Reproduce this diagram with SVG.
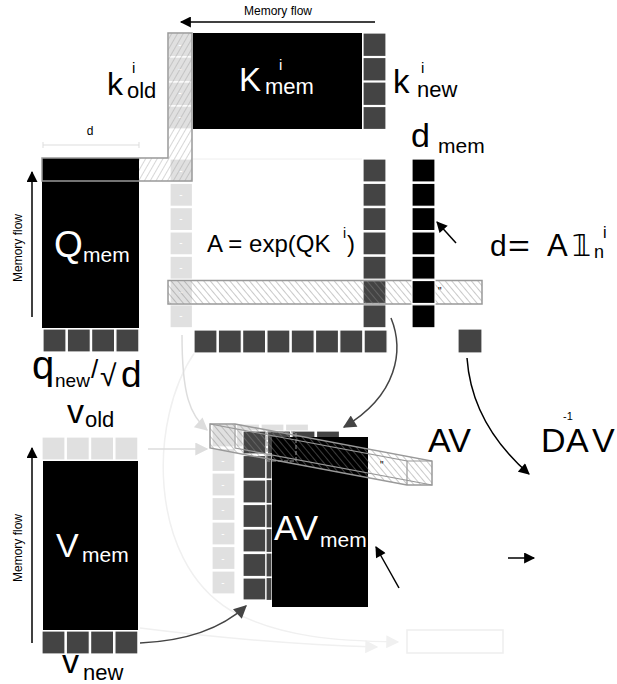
<svg xmlns="http://www.w3.org/2000/svg" width="617" height="684" viewBox="0 0 617 684">
<defs>
<style>
text{font-family:"Liberation Sans",Arial,sans-serif;fill:#000}
.w{fill:#fff}
.dk{fill:#444;stroke:#fff;stroke-width:1.2}
.lt{fill:#e0e0e0;stroke:#fff;stroke-width:1.2}
.bk{fill:#000;stroke:#fff;stroke-width:1.2}
.mn{fill:#fff;font-size:10px;text-anchor:middle}
.hl{fill:none;stroke:#999;stroke-width:1.5}
</style>
<pattern id="hs" width="5" height="5" patternUnits="userSpaceOnUse" patternTransform="rotate(30)"><line x1="0" y1="0" x2="0" y2="5" stroke="#9a9a9a" stroke-width="0.8"/></pattern>
<pattern id="hb" width="5" height="5" patternUnits="userSpaceOnUse" patternTransform="rotate(-40)"><line x1="0" y1="0" x2="0" y2="5" stroke="#888" stroke-width="0.9"/></pattern>
<marker id="mk" viewBox="0 0 10 10" refX="9" refY="5" markerWidth="12" markerHeight="11" markerUnits="userSpaceOnUse" orient="auto"><path d="M0,0 L10,5 L0,10 z" fill="#000"/></marker>
<marker id="md" viewBox="0 0 10 10" refX="9" refY="5" markerWidth="16" markerHeight="13" markerUnits="userSpaceOnUse" orient="auto"><path d="M0,0 L10,5 L0,10 z" fill="#444"/></marker>
<marker id="ml" viewBox="0 0 10 10" refX="9" refY="5" markerWidth="16" markerHeight="13" markerUnits="userSpaceOnUse" orient="auto"><path d="M0,0 L10,5 L0,10 z" fill="#ddd"/></marker>
<marker id="mf" viewBox="0 0 10 10" refX="9" refY="5" markerWidth="16" markerHeight="13" markerUnits="userSpaceOnUse" orient="auto"><path d="M0,0 L10,5 L0,10 z" fill="#f0f0f0"/></marker>
</defs>
<rect width="617" height="684" fill="#fff"/>

<g id="connectors">
<path d="M195,352 C148,420 148,560 230,610 C280,638 340,641 398,642" fill="none" stroke="#f0f0f0" stroke-width="1.5" marker-end="url(#mf)"/>
<path d="M140,628 C220,638 300,645 377,647" fill="none" stroke="#f0f0f0" stroke-width="1.5" marker-end="url(#mf)"/>
<path d="M182,335 C182,395 190,415 207,430" fill="none" stroke="#ddd" stroke-width="1.5" marker-end="url(#ml)"/>
<path d="M148,449 L207,449" fill="none" stroke="#ddd" stroke-width="1.5" marker-end="url(#ml)"/>
<path d="M140,643 C185,641 220,630 246,606" fill="none" stroke="#444" stroke-width="1.5" marker-end="url(#md)"/>
<path d="M391,318 C404,350 398,395 344,427" fill="none" stroke="#444" stroke-width="1.5" marker-end="url(#md)"/>
<path d="M467,358 C470,400 490,440 529,474" fill="none" stroke="#000" stroke-width="1.5" marker-end="url(#mk)"/>
<path d="M375,22 L181,22" fill="none" stroke="#000" stroke-width="1.5" marker-end="url(#mk)"/>
<path d="M32,317 L32,172" fill="none" stroke="#000" stroke-width="1.5" marker-end="url(#mk)"/>
<path d="M32,643 L32,448" fill="none" stroke="#000" stroke-width="1.5" marker-end="url(#mk)"/>
<path d="M456,243 L437,222" fill="none" stroke="#000" stroke-width="1.5" marker-end="url(#mk)"/>
<path d="M399,588 L376,547" fill="none" stroke="#000" stroke-width="1.5" marker-end="url(#mk)"/>
<path d="M508,558 L534,558" fill="none" stroke="#000" stroke-width="1.5" marker-end="url(#mk)"/>
<path d="M43,145 L139,145 M43,142 L43,148 M139,142 L139,148" fill="none" stroke="#ddd" stroke-width="1"/>
</g>

<text x="278" y="15" font-size="12" text-anchor="middle">Memory flow</text>
<text transform="translate(22,248) rotate(-90)" font-size="12" text-anchor="middle">Memory flow</text>
<text transform="translate(22,548) rotate(-90)" font-size="12" text-anchor="middle">Memory flow</text>
<text x="90" y="135" font-size="12" text-anchor="middle">d</text>

<g id="k_old_label">
<text x="107" y="95" font-size="32">k</text>
<text x="132" y="73" font-size="15">i</text>
<text x="127" y="98" font-size="22">old</text>
</g>

<g id="K_mem">
<rect x="193" y="33" width="169" height="96" fill="#000"/>
<text x="239" y="91" font-size="33" class="w">K</text>
<text x="279" y="70" font-size="15" class="w">i</text>
<text x="265" y="94" font-size="22" class="w">mem</text>
</g>

<g id="k_new">
<rect class="dk" x="363" y="33" width="23" height="23.5"/>
<rect class="dk" x="363" y="57.5" width="23" height="23.5"/>
<rect class="dk" x="363" y="82" width="23" height="23.5"/>
<rect class="dk" x="363" y="106.5" width="23" height="23"/>
<text x="393" y="93" font-size="33">k</text>
<text x="421" y="73" font-size="15">i</text>
<text x="417" y="97" font-size="22">new</text>
</g>

<g id="Q_mem">
<rect x="42" y="158" width="97" height="170" fill="#000"/>
<rect class="dk" x="43" y="329" width="23" height="23"/>
<rect class="dk" x="67.3" y="329" width="23" height="23"/>
<rect class="dk" x="91.6" y="329" width="23" height="23"/>
<rect class="dk" x="115.9" y="329" width="23" height="23"/>
<text x="54" y="257" font-size="37" class="w">Q</text>
<text x="83" y="262" font-size="21" class="w">mem</text>
<text x="32" y="379" font-size="40">q</text>
<text x="55" y="387" font-size="19">new</text>
<text x="91" y="378" font-size="26">/</text>
<text x="100" y="386" font-size="30">√</text>
<text x="121" y="387" font-size="37">d</text>
</g>

<g id="A_matrix">
<line x1="193" y1="159" x2="362" y2="159" stroke="#eee" stroke-width="1"/>
<g id="k_old_cells">
<rect class="lt" x="168" y="33" width="24" height="24"/>
<rect class="lt" x="168" y="57" width="24" height="25"/>
<rect class="lt" x="168" y="82" width="24" height="24"/>
<rect class="lt" x="168" y="106" width="24" height="23"/>
<text class="mn" x="180" y="48">-</text>
<text class="mn" x="180" y="72">-</text>
<text class="mn" x="180" y="96">-</text>
<text class="mn" x="180" y="120">-</text>
<text class="mn" x="180" y="141">-</text>
</g>
<rect class="lt" x="170" y="159" width="22.5" height="23"/>
<rect class="lt" x="170" y="183.3" width="22.5" height="23"/>
<rect class="lt" x="170" y="207.6" width="22.5" height="23"/>
<rect class="lt" x="170" y="231.9" width="22.5" height="23"/>
<rect class="lt" x="170" y="256.2" width="22.5" height="23"/>
<rect class="lt" x="170" y="280.5" width="22.5" height="23"/>
<rect class="lt" x="170" y="304.8" width="22.5" height="23"/>
<text class="mn" x="181" y="174">-</text>
<text class="mn" x="181" y="198">-</text>
<text class="mn" x="181" y="222">-</text>
<text class="mn" x="181" y="246">-</text>
<text class="mn" x="181" y="271">-</text>
<text class="mn" x="181" y="295">-</text>
<text class="mn" x="181" y="319">-</text>
<rect class="dk" x="363" y="159" width="23" height="23"/>
<rect class="dk" x="363" y="183.3" width="23" height="23"/>
<rect class="dk" x="363" y="207.6" width="23" height="23"/>
<rect class="dk" x="363" y="231.9" width="23" height="23"/>
<rect class="dk" x="363" y="256.2" width="23" height="23"/>
<rect class="dk" x="363" y="280.5" width="23" height="23"/>
<rect class="dk" x="363" y="304.8" width="23" height="23"/>
<rect class="dk" x="194" y="330" width="23" height="23"/>
<rect class="dk" x="218.3" y="330" width="23" height="23"/>
<rect class="dk" x="242.6" y="330" width="23" height="23"/>
<rect class="dk" x="266.9" y="330" width="23" height="23"/>
<rect class="dk" x="291.2" y="330" width="23" height="23"/>
<rect class="dk" x="315.5" y="330" width="23" height="23"/>
<rect class="dk" x="339.8" y="330" width="23" height="23"/>
<rect class="dk" x="364.1" y="330" width="23" height="23"/>
<path d="M168,33 L192,33 L192,181 L139,181 L139,158 L168,158 Z" fill="url(#hs)"/>
<path class="hl" d="M168,33 L192,33 L192,181 L42,181 L42,158 L168,158 Z"/>
<rect x="168" y="280.5" width="314" height="23.5" fill="url(#hb)" stroke="#999" stroke-width="1.5"/>
<text x="207" y="252" font-size="24">A = exp(QK</text>
<text x="343" y="238" font-size="14">i</text>
<text x="347" y="252" font-size="24">)</text>
<text x="438" y="295" font-size="10" style="fill:#000">"</text>
</g>

<g id="d_mem">
<rect class="bk" x="412" y="159" width="23" height="23"/>
<rect class="bk" x="412" y="183.3" width="23" height="23"/>
<rect class="bk" x="412" y="207.6" width="23" height="23"/>
<rect class="bk" x="412" y="231.9" width="23" height="23"/>
<rect class="bk" x="412" y="256.2" width="23" height="23"/>
<rect class="bk" x="412" y="280.5" width="23" height="23"/>
<rect class="bk" x="412" y="304.8" width="23" height="23"/>
<text x="411" y="147" font-size="34">d</text>
<text x="438" y="153" font-size="21">mem</text>
</g>

<g id="d_sum">
<rect class="dk" x="458" y="329" width="24" height="24"/>
</g>

<g id="d_eq">
<text x="490" y="256" font-size="30">d</text>
<text x="508" y="256" font-size="30" transform="translate(508,0) scale(1.25,1) translate(-508,0)">=</text>
<text x="547" y="256" font-size="31">A</text>
<text x="572" y="256" font-size="30" style="font-family:'DejaVu Sans',sans-serif">𝟙</text>
<text x="594" y="258" font-size="18">n</text>
<text x="603" y="238" font-size="16">i</text>
</g>

<g id="V_mem">
<rect class="lt" x="42" y="437" width="23" height="23"/>
<rect class="lt" x="66.3" y="437" width="23" height="23"/>
<rect class="lt" x="90.6" y="437" width="23" height="23"/>
<rect class="lt" x="114.9" y="437" width="23" height="23"/>
<rect x="43" y="461" width="95" height="169" fill="#000"/>
<rect class="dk" x="42" y="631" width="23" height="23"/>
<rect class="dk" x="66.3" y="631" width="23" height="23"/>
<rect class="dk" x="90.6" y="631" width="23" height="23"/>
<rect class="dk" x="114.9" y="631" width="23" height="23"/>
<text x="67" y="423" font-size="34">v</text>
<text x="85" y="427" font-size="22">old</text>
<text x="56" y="557" font-size="34" class="w">V</text>
<text x="82" y="562" font-size="21" class="w">mem</text>
<text x="62" y="673" font-size="34">v</text>
<text x="83" y="680" font-size="22">new</text>
</g>

<g id="AV_mem">
<rect class="lt" x="236.5" y="424" width="23" height="23"/>
<rect class="lt" x="261" y="424" width="23" height="23"/>
<rect class="lt" x="285.5" y="424" width="23" height="23"/>
<rect class="lt" x="212" y="424" width="23" height="23"/>
<rect class="lt" x="212" y="448.5" width="23" height="23"/>
<rect class="lt" x="212" y="473" width="23" height="23"/>
<rect class="lt" x="212" y="497.5" width="23" height="23"/>
<rect class="lt" x="212" y="522" width="23" height="23"/>
<rect class="lt" x="212" y="546.5" width="23" height="23"/>
<rect class="lt" x="212" y="571" width="23" height="23"/>
<text class="mn" x="223" y="464">-</text>
<text class="mn" x="223" y="488">-</text>
<text class="mn" x="223" y="513">-</text>
<text class="mn" x="223" y="537">-</text>
<text class="mn" x="223" y="562">-</text>
<text class="mn" x="223" y="586">-</text>
<rect class="dk" x="267.5" y="431" width="23" height="23"/>
<rect class="dk" x="292" y="431" width="23" height="23"/>
<rect class="dk" x="316.5" y="431" width="23" height="23"/>
<rect class="dk" x="243" y="431" width="23" height="23"/>
<rect class="dk" x="243" y="455.5" width="23" height="23"/>
<rect class="dk" x="243" y="480" width="23" height="23"/>
<rect class="dk" x="243" y="504.5" width="23" height="23"/>
<rect class="dk" x="243" y="529" width="23" height="23"/>
<rect class="dk" x="243" y="553.5" width="23" height="23"/>
<rect class="dk" x="243" y="578" width="23" height="22"/>
<rect class="dk" x="266" y="455" width="6" height="24"/>
<rect class="dk" x="266" y="479.5" width="6" height="24"/>
<rect class="dk" x="266" y="504" width="6" height="24"/>
<rect class="dk" x="266" y="528.5" width="6" height="24"/>
<rect class="dk" x="266" y="553" width="6" height="24"/>
<rect class="dk" x="266" y="577.5" width="6" height="23"/>
<rect x="272" y="437" width="96" height="170" fill="#000"/>
<path d="M210,424 L235,424 L432,461 L432,485 L407,485 L210,448 Z" fill="url(#hb)" stroke="#999" stroke-width="1.5"/>
<path d="M235,424 L235,448 L432,485 M210,424 L407,461 L407,485 M407,461 L432,461" fill="none" stroke="#999" stroke-width="1.2"/>
<rect x="267" y="432" width="29" height="29" fill="none" stroke="#999" stroke-width="1" stroke-dasharray="4,2"/>
<text x="380" y="469" font-size="10" style="fill:#000">"</text>
<text x="274" y="540" font-size="35" class="w">AV</text>
<text x="320" y="547" font-size="21" class="w">mem</text>
</g>

<g id="AV_label">
<text x="428" y="452" font-size="34">AV</text>
</g>
<g id="DAV_label">
<text x="541" y="452" font-size="34">D</text>
<text x="566" y="452" font-size="34">A</text>
<text x="592" y="452" font-size="34">V</text>
<text x="563" y="420" font-size="11">-1</text>
</g>
<g id="out_box">
<rect x="407" y="630" width="96" height="23" fill="none" stroke="#eee" stroke-width="1.5"/>
</g>
</svg>
